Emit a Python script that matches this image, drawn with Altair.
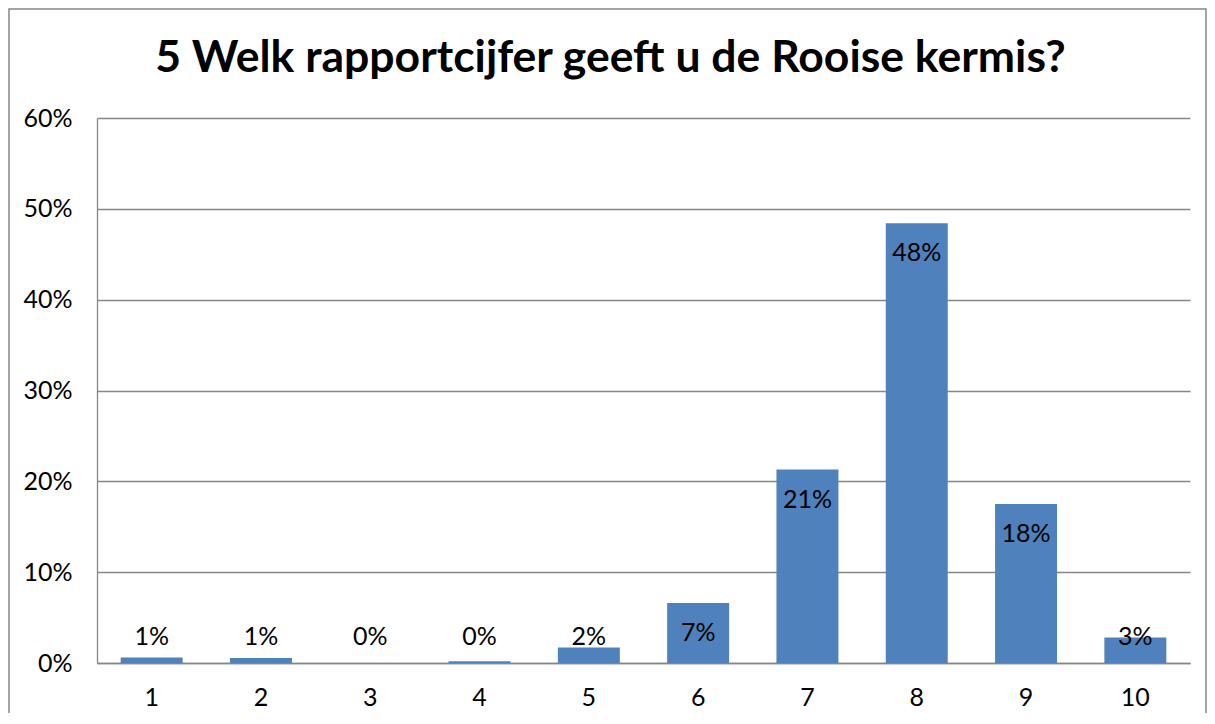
import altair as alt
import pandas as pd

# ---- data ----
categories = ["1", "2", "3", "4", "5", "6", "7", "8", "9", "10"]
shares = [0.006, 0.0055, 0.0, 0.002, 0.017, 0.066, 0.213, 0.484, 0.175, 0.028]
y_ticks = [0.0, 0.1, 0.2, 0.3, 0.4, 0.5, 0.6]
title_text = "5 Welk rapportcijfer geeft u de Rooise kermis?"

df = pd.DataFrame({"cijfer": categories, "aandeel": shares})

FONT = "Lato"
GRID = "#868686"
BAR = "#4F81BD"
W, H = 1093, 545
PAD_L, PAD_T, PAD_R, PAD_B = 89, 110, 17, 50

x_enc = alt.X(
    "cijfer:N",
    sort=categories,
    scale=alt.Scale(paddingInner=0.433, paddingOuter=0.2165),
    axis=alt.Axis(
        title=None, labelAngle=0, ticks=False, tickSize=0, grid=False,
        domainColor=GRID, domainWidth=1.3,
        labelFont=FONT, labelFontSize=25, labelColor="black",
        labelBaseline="middle", labelPadding=34,
    ),
)

y_scale = alt.Scale(domain=[0, 0.6], nice=False)

bars = alt.Chart(df).mark_bar(color=BAR).encode(
    x=x_enc,
    y=alt.Y(
        "aandeel:Q",
        scale=y_scale,
        axis=alt.Axis(
            title=None, values=y_ticks, format=".0%", ticks=False, tickSize=0,
            grid=True, gridColor=GRID, gridWidth=1.3,
            domainColor=GRID, domainWidth=1.3,
            labelFont=FONT, labelFontSize=25, labelColor="black",
            labelPadding=25,
        ),
    ),
)

labels = alt.Chart(df).transform_calculate(
    label_y="max(datum.aandeel - 0.033, 0.029)",
    label="format(datum.aandeel, '.0%')",
).mark_text(font=FONT, fontSize=25, color="black", baseline="middle").encode(
    x=alt.X("cijfer:N", sort=categories),
    y=alt.Y("label_y:Q", scale=y_scale),
    text="label:N",
)

border = alt.Chart(pd.DataFrame({"k": [0]})).mark_rect(
    fillOpacity=0, stroke=GRID, strokeWidth=1.5
).encode(
    x=alt.value(-PAD_L + 1),
    x2=alt.value(W + PAD_R - 1),
    y=alt.value(-PAD_T + 1),
    y2=alt.value(H + 200),
)

chart = alt.layer(border, bars, labels).properties(
    width=W,
    height=H,
    autosize=alt.AutoSizeParams(type="none"),
    padding={"left": PAD_L, "top": PAD_T, "right": PAD_R, "bottom": PAD_B},
    title=alt.TitleParams(
        title_text, font=FONT, fontSize=44.5, fontWeight="bold", color="black",
        anchor="middle", frame="group", dx=-33, baseline="alphabetic",
        offset=-108,
    ),
).configure_view(stroke=None)

chart.save("out.html", embed_options={"renderer": "svg", "actions": False})
